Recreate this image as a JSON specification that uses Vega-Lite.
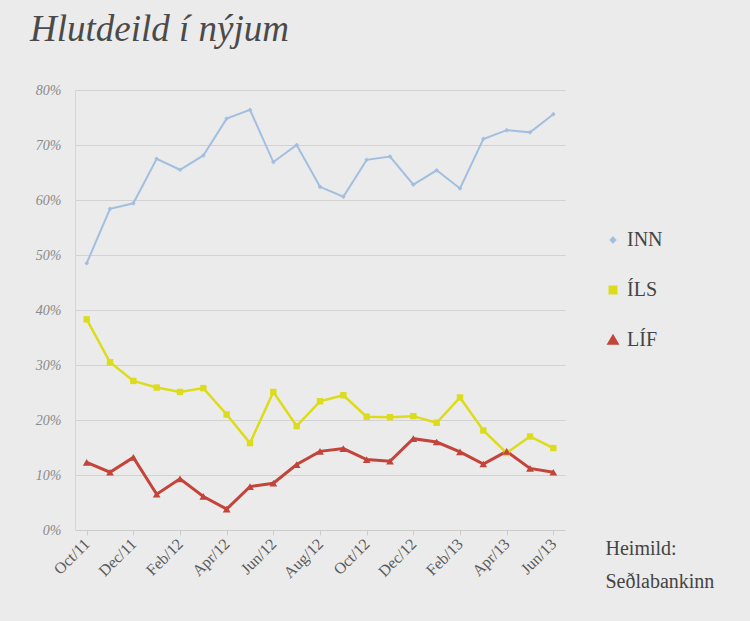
{
  "$schema": "https://vega.github.io/schema/vega-lite/v6.json",
  "width": 490,
  "height": 440,
  "autosize": {"type": "none"},
  "padding": {"left": 75, "top": 90, "right": 185, "bottom": 91},
  "background": "#ebebeb",
  "title": {
    "text": "Hlutdeild í nýjum",
    "anchor": "start",
    "frame": "group",
    "dx": -45,
    "offset": 34,
    "font": "Liberation Serif",
    "fontStyle": "italic",
    "fontWeight": "normal",
    "fontSize": 37,
    "color": "#4a4a4a"
  },
  "config": {
    "view": {"stroke": null},
    "axis": {"labelFont": "Liberation Serif", "titleFont": "Liberation Serif"}
  },
  "data": {
    "values": [
      {"m": "Oct/11", "s": "INN", "v": 48.5}, {"m": "Nov/11", "s": "INN", "v": 58.4}, {"m": "Dec/11", "s": "INN", "v": 59.4},
      {"m": "Jan/12", "s": "INN", "v": 67.5}, {"m": "Feb/12", "s": "INN", "v": 65.5}, {"m": "Mar/12", "s": "INN", "v": 68.1},
      {"m": "Apr/12", "s": "INN", "v": 74.8}, {"m": "May/12", "s": "INN", "v": 76.4}, {"m": "Jun/12", "s": "INN", "v": 66.9},
      {"m": "Jul/12", "s": "INN", "v": 70.0}, {"m": "Aug/12", "s": "INN", "v": 62.4}, {"m": "Sep/12", "s": "INN", "v": 60.6},
      {"m": "Oct/12", "s": "INN", "v": 67.3}, {"m": "Nov/12", "s": "INN", "v": 67.9}, {"m": "Dec/12", "s": "INN", "v": 62.8},
      {"m": "Jan/13", "s": "INN", "v": 65.4}, {"m": "Feb/13", "s": "INN", "v": 62.1}, {"m": "Mar/13", "s": "INN", "v": 71.1},
      {"m": "Apr/13", "s": "INN", "v": 72.7}, {"m": "May/13", "s": "INN", "v": 72.3}, {"m": "Jun/13", "s": "INN", "v": 75.6},
      {"m": "Oct/11", "s": "ÍLS", "v": 38.3}, {"m": "Nov/11", "s": "ÍLS", "v": 30.5}, {"m": "Dec/11", "s": "ÍLS", "v": 27.1},
      {"m": "Jan/12", "s": "ÍLS", "v": 25.9}, {"m": "Feb/12", "s": "ÍLS", "v": 25.1}, {"m": "Mar/12", "s": "ÍLS", "v": 25.8},
      {"m": "Apr/12", "s": "ÍLS", "v": 21.0}, {"m": "May/12", "s": "ÍLS", "v": 15.8}, {"m": "Jun/12", "s": "ÍLS", "v": 25.1},
      {"m": "Jul/12", "s": "ÍLS", "v": 18.9}, {"m": "Aug/12", "s": "ÍLS", "v": 23.4}, {"m": "Sep/12", "s": "ÍLS", "v": 24.5},
      {"m": "Oct/12", "s": "ÍLS", "v": 20.6}, {"m": "Nov/12", "s": "ÍLS", "v": 20.5}, {"m": "Dec/12", "s": "ÍLS", "v": 20.7},
      {"m": "Jan/13", "s": "ÍLS", "v": 19.5}, {"m": "Feb/13", "s": "ÍLS", "v": 24.1}, {"m": "Mar/13", "s": "ÍLS", "v": 18.1},
      {"m": "Apr/13", "s": "ÍLS", "v": 14.0}, {"m": "May/13", "s": "ÍLS", "v": 17.0}, {"m": "Jun/13", "s": "ÍLS", "v": 14.9},
      {"m": "Oct/11", "s": "LÍF", "v": 12.3}, {"m": "Nov/11", "s": "LÍF", "v": 10.5}, {"m": "Dec/11", "s": "LÍF", "v": 13.2},
      {"m": "Jan/12", "s": "LÍF", "v": 6.5}, {"m": "Feb/12", "s": "LÍF", "v": 9.3}, {"m": "Mar/12", "s": "LÍF", "v": 6.1},
      {"m": "Apr/12", "s": "LÍF", "v": 3.8}, {"m": "May/12", "s": "LÍF", "v": 7.9}, {"m": "Jun/12", "s": "LÍF", "v": 8.5},
      {"m": "Jul/12", "s": "LÍF", "v": 11.9}, {"m": "Aug/12", "s": "LÍF", "v": 14.3}, {"m": "Sep/12", "s": "LÍF", "v": 14.8},
      {"m": "Oct/12", "s": "LÍF", "v": 12.8}, {"m": "Nov/12", "s": "LÍF", "v": 12.5}, {"m": "Dec/12", "s": "LÍF", "v": 16.6},
      {"m": "Jan/13", "s": "LÍF", "v": 16.0}, {"m": "Feb/13", "s": "LÍF", "v": 14.2}, {"m": "Mar/13", "s": "LÍF", "v": 12.0},
      {"m": "Apr/13", "s": "LÍF", "v": 14.3}, {"m": "May/13", "s": "LÍF", "v": 11.2}, {"m": "Jun/13", "s": "LÍF", "v": 10.5}
    ]
  },
  "encoding": {
    "x": {
      "field": "m",
      "type": "ordinal",
      "sort": null,
      "scale": {"type": "point", "padding": 0.5},
      "axis": {
        "values": ["Oct/11", "Dec/11", "Feb/12", "Apr/12", "Jun/12", "Aug/12", "Oct/12", "Dec/12", "Feb/13", "Apr/13", "Jun/13"],
        "labelAngle": -45,
        "labelAlign": "right",
        "labelBaseline": "middle",
        "labelFontSize": 16,
        "labelColor": "#5a5a5a",
        "labelPadding": 6,
        "domainColor": "#cccccc",
        "tickColor": "#cccccc",
        "tickSize": 5,
        "grid": false,
        "title": ["Heimild:", "Seðlabankinn"],
        "titleAngle": 0,
        "titleAlign": "left",
        "titleBaseline": "top",
        "titleX": 530,
        "titleY": 8,
        "titleFontSize": 20,
        "titleFontWeight": "normal",
        "titleColor": "#444444",
        "titleLineHeight": 33
      }
    },
    "y": {
      "field": "v",
      "type": "quantitative",
      "scale": {"domain": [0, 80], "nice": false},
      "axis": {
        "values": [0, 10, 20, 30, 40, 50, 60, 70, 80],
        "labelExpr": "datum.value + '%'",
        "labelFontStyle": "italic",
        "labelFontSize": 14,
        "labelColor": "#8a8a8a",
        "labelPadding": 14,
        "ticks": false,
        "domainColor": "#d6d6d6",
        "gridColor": "#d2d2d2",
        "gridWidth": 1,
        "title": null
      }
    },
    "color": {
      "field": "s",
      "type": "nominal",
      "sort": null,
      "scale": {"domain": ["INN", "ÍLS", "LÍF"], "range": ["#a3bfdf", "#dcdc1c", "#c2443a"]},
      "legend": {
        "title": null,
        "orient": "none",
        "legendX": 528,
        "legendY": 140,
        "labelFont": "Liberation Serif",
        "labelFontSize": 20,
        "labelColor": "#444444",
        "rowPadding": 30,
        "symbolSize": 100
      }
    }
  },
  "layer": [
    {
      "mark": {"type": "line"},
      "encoding": {
        "strokeWidth": {
          "field": "s",
          "type": "nominal",
          "sort": null,
          "scale": {"domain": ["INN", "ÍLS", "LÍF"], "range": [2, 3, 3]},
          "legend": null
        }
      }
    },
    {
      "mark": {"type": "point", "filled": true, "opacity": 1},
      "encoding": {
        "shape": {
          "field": "s",
          "type": "nominal",
          "sort": null,
          "scale": {"domain": ["INN", "ÍLS", "LÍF"], "range": ["diamond", "square", "triangle-up"]}
        },
        "size": {
          "field": "s",
          "type": "nominal",
          "sort": null,
          "scale": {"domain": ["INN", "ÍLS", "LÍF"], "range": [22, 60, 55]},
          "legend": null
        }
      }
    }
  ]
}
